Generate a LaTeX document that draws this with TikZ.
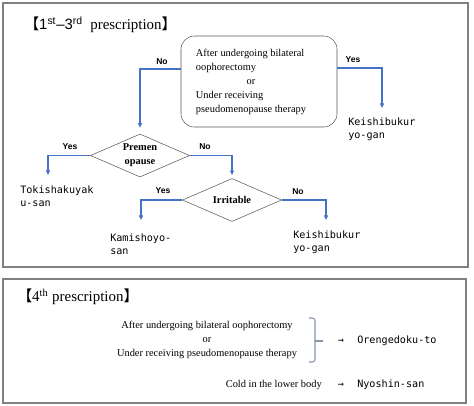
\documentclass[tikz,border=0pt]{standalone}
\usepackage{fontspec}
\setmainfont{Liberation Serif}
\setsansfont{Liberation Sans}
\setmonofont{DejaVu Sans Mono}
\newfontfamily\cjk{Noto Sans CJK JP}
\usepackage{xcolor}
\usepackage{tikz}
\usetikzlibrary{positioning, arrows.meta, shapes.geometric}
\definecolor{cblue}{RGB}{68,114,196}
\definecolor{cframe}{RGB}{128,128,128}
\definecolor{cdark}{RGB}{89,89,89}
\definecolor{cbrace}{RGB}{132,151,176}

\begin{document}
\begin{tikzpicture}[x=0.75pt, y=-0.75pt,
        every node/.style={inner sep=0pt},
        frame/.style={draw=cframe, line width=1pt},
        txt/.style={font=\fontsize{7.8pt}{10.5pt}\selectfont, align=center},
        ttl/.style={font=\fontsize{11.2pt}{13pt}\selectfont, anchor=west},
        cond/.style={draw=cdark, rounded corners=10pt, minimum width=117pt, minimum height=68.25pt},
        dec/.style={draw=cdark, diamond, aspect=2.3, minimum width=74.25pt, minimum height=32.25pt,
          font=\bfseries\fontsize{7.8pt}{10.5pt}\selectfont, align=center},
        drug/.style={font=\ttfamily\fontsize{7.6pt}{9.75pt}\selectfont, align=left, anchor=west},
        lbl/.style={font=\sffamily\bfseries\fontsize{6.4pt}{7pt}\selectfont},
        arr/.style={draw=cblue, line width=0.9pt, -{Triangle[length=3.5pt, width=3pt]}}]
      \useasboundingbox (0,0) rectangle (474,405);
      \draw[frame] (3,3) rectangle (468,267);
      \draw[frame] (3,279) rectangle (466,403);

      \node[ttl] (title1) at (24,25) {{\cjk 【}{\sffamily 1\textsuperscript{st}--3\textsuperscript{rd}}\ \ prescription{\cjk 】}};

      \node[cond] (q1) at (259,81.5) {};
      \node[txt] (q1txt) at (251,81.5) {\begin{tabular}{@{}l@{}}After undergoing bilateral\\ oophorectomy\\
        \multicolumn{1}{@{}c@{}}{or}\\ Under receiving\\ pseudomenopause therapy\end{tabular}};
      \node[dec] (d1) at (140,155.5) {Premen\\opause};
      \node[dec] (d2) at (232,200) {Irritable};

      \coordinate (e0) at (382,108);
      \coordinate (e1) at (48,175);
      \coordinate (e2) at (141,220);
      \coordinate (e3) at (326,220);

      \node[drug] (keishi1) at (348,129.5) {Keishibukur\\yo-gan};
      \node[drug] (toki) at (20,196.5) {Tokishakuyak\\u-san};
      \node[drug] (kami) at (110,244.5) {Kamishoyo-\\san};
      \node[drug] (keishi2) at (293,242.5) {Keishibukur\\yo-gan};

      \draw[arr, shorten >=4.5pt] ([yshift=9.4pt]q1.west) -| (d1.north);
      \draw[arr] ([yshift=10.1pt]q1.east) -| (e0);
      \draw[arr] (d1.west) -| (e1);
      \draw[arr, shorten >=2.3pt] (d1.east) -| (d2.north);
      \draw[arr] (d2.west) -| (e2);
      \draw[arr] (d2.east) -| (e3);

      \node[lbl] (no1) at (162,62) {No};
      \node[lbl] (yes1) at (353,60) {Yes};
      \node[lbl] (yes2) at (70,147) {Yes};
      \node[lbl] (no2) at (205,147) {No};
      \node[lbl] (yes3) at (163,191) {Yes};
      \node[lbl] (no3) at (298,192) {No};

      \node[ttl] (title2) at (17,297) {{\cjk 【}4\textsuperscript{th} prescription{\cjk 】}};
      \node[txt] (cond4) at (207,339.5) {\begin{tabular}{@{}c@{}}After undergoing bilateral oophorectomy\\ or\\
        Under receiving pseudomenopause therapy\end{tabular}};
      \draw[cbrace, line width=0.8pt, rounded corners=2pt] (309,318) -- (315,318) -- (315,362) -- (309,362);
      \draw[cbrace, line width=0.8pt] (315,341) -- (323,341);
      \node[drug, anchor=center] (to1) at (341,341) {→};
      \node[drug] (oren) at (357,341) {Orengedoku-to};
      \node[txt, anchor=east] (cold) at (322,385) {Cold in the lower body};
      \node[drug, anchor=center] (to2) at (341,385) {→};
      \node[drug] (nyo) at (357,385) {Nyoshin-san};
    \end{tikzpicture}
\end{document}
